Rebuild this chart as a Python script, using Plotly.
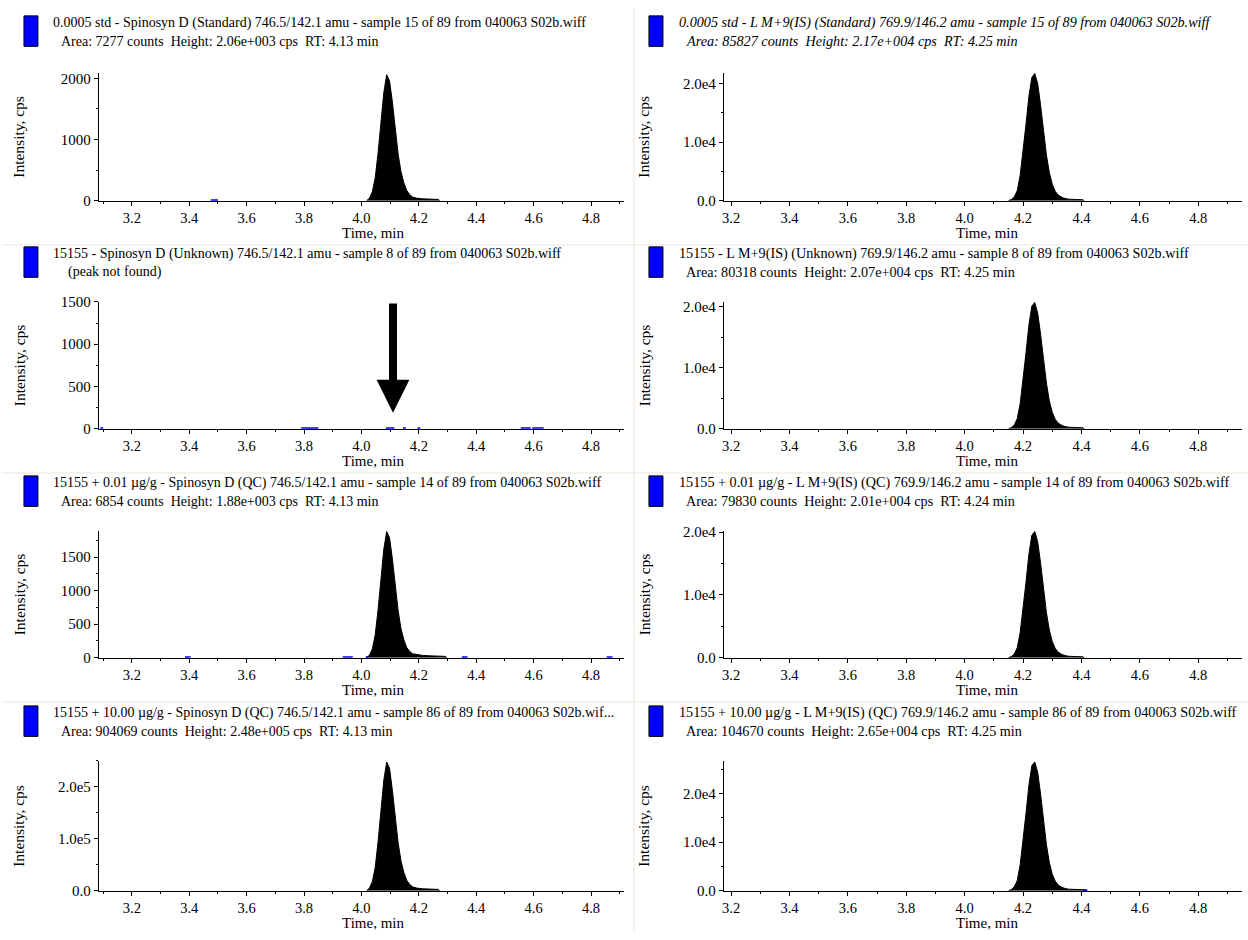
import plotly.graph_objects as go

W, H = 1248, 940

# ---------------- data ----------------
# Spinosyn D peaks (left column)
t_left = [4.018, 4.028, 4.038, 4.048, 4.058, 4.068, 4.078, 4.088, 4.098, 4.108, 4.118, 4.128,
          4.138, 4.148, 4.158, 4.168, 4.178, 4.193, 4.213, 4.233, 4.253, 4.268, 4.273]
i_std = [0, 40, 145, 370, 780, 1280, 1770, 2060, 1960, 1610, 1150, 760,
         470, 290, 165, 100, 60, 40, 30, 27, 25, 20, 0]
i_unknown = []  # peak not found
t_qc1 = [4.018, 4.028, 4.038, 4.048, 4.058, 4.068, 4.078, 4.088, 4.098, 4.108, 4.118, 4.128,
         4.138, 4.148, 4.158, 4.168, 4.178, 4.193, 4.213, 4.233, 4.253, 4.273, 4.293, 4.298]
i_qc1 = [0, 38, 130, 340, 715, 1165, 1620, 1880, 1790, 1470, 1050, 700,
         430, 265, 150, 95, 60, 45, 35, 30, 25, 22, 20, 0]
i_qc10 = [0, 5000, 17400, 44600, 94200, 154000, 213000, 248000, 236000, 193000, 139000, 92000,
          57000, 35000, 20000, 12400, 7500, 5000, 3700, 3200, 3000, 2500, 0]

# L M+9 (IS) peaks (right column)
t_right = [4.150, 4.160, 4.170, 4.180, 4.190, 4.200, 4.210, 4.220, 4.230, 4.240, 4.250, 4.260,
           4.270, 4.280, 4.290, 4.300, 4.310, 4.320, 4.330, 4.340, 4.355, 4.375, 4.395, 4.405, 4.41]
i_is_std = [0, 200, 650, 1700, 4300, 8200, 13000, 17800, 21000, 21700, 20000, 16300,
            11900, 7800, 4800, 2800, 1600, 980, 650, 430, 260, 220, 170, 150, 0]
i_is_unk = [0, 200, 600, 1650, 4100, 7900, 12400, 17000, 20100, 20700, 19000, 15500,
            11400, 7500, 4550, 2700, 1550, 930, 620, 410, 250, 210, 165, 145, 0]
i_is_qc1 = [0, 200, 600, 1600, 4000, 7600, 12000, 16500, 19500, 20100, 18500, 15100,
            11000, 7200, 4400, 2600, 1500, 900, 600, 400, 240, 200, 160, 140, 0]
t_right4 = [4.150, 4.160, 4.170, 4.180, 4.190, 4.200, 4.210, 4.220, 4.230, 4.240, 4.250, 4.260,
            4.270, 4.280, 4.290, 4.300, 4.310, 4.320, 4.330, 4.340, 4.355, 4.375, 4.395, 4.415, 4.42]
i_is_qc10 = [0, 260, 800, 2100, 5300, 10000, 15900, 21700, 25700, 26500, 24400, 19900,
             14600, 9500, 5800, 3400, 2000, 1200, 800, 530, 320, 265, 210, 185, 0]

# small integrated noise segments (blue) on baselines
blue_std = [[3.475, 3.50]]
blue_unknown = [[3.09, 3.10], [3.79, 3.85], [4.085, 4.115], [4.145, 4.155], [4.195, 4.205],
                [4.555, 4.59], [4.595, 4.635]]
blue_qc1 = [[3.385, 3.405], [3.935, 3.97], [4.015, 4.025], [4.35, 4.37], [4.855, 4.875]]
blue_is_qc10 = [[4.405, 4.42]]

x_ticks = [3.2, 3.4, 3.6, 3.8, 4.0, 4.2, 4.4, 4.6, 4.8]
x_ticktext = ["3.2", "3.4", "3.6", "3.8", "4.0", "4.2", "4.4", "4.6", "4.8"]

titles = [
    ("0.0005 std - Spinosyn D (Standard) 746.5/142.1 amu - sample 15 of 89 from 040063 S02b.wiff",
     "Area: 7277 counts  Height: 2.06e+003 cps  RT: 4.13 min", False),
    ("0.0005 std - L M+9(IS) (Standard) 769.9/146.2 amu - sample 15 of 89 from 040063 S02b.wiff",
     "Area: 85827 counts  Height: 2.17e+004 cps  RT: 4.25 min", True),
    ("15155 - Spinosyn D (Unknown) 746.5/142.1 amu - sample 8 of 89 from 040063 S02b.wiff",
     "  (peak not found)", False),
    ("15155 - L M+9(IS) (Unknown) 769.9/146.2 amu - sample 8 of 89 from 040063 S02b.wiff",
     "Area: 80318 counts  Height: 2.07e+004 cps  RT: 4.25 min", False),
    ("15155 + 0.01 µg/g - Spinosyn D (QC) 746.5/142.1 amu - sample 14 of 89 from 040063 S02b.wiff",
     "Area: 6854 counts  Height: 1.88e+003 cps  RT: 4.13 min", False),
    ("15155 + 0.01 µg/g - L M+9(IS) (QC) 769.9/146.2 amu - sample 14 of 89 from 040063 S02b.wiff",
     "Area: 79830 counts  Height: 2.01e+004 cps  RT: 4.24 min", False),
    ("15155 + 10.00 µg/g - Spinosyn D (QC) 746.5/142.1 amu - sample 86 of 89 from 040063 S02b.wif...",
     "Area: 904069 counts  Height: 2.48e+005 cps  RT: 4.13 min", False),
    ("15155 + 10.00 µg/g - L M+9(IS) (QC) 769.9/146.2 amu - sample 86 of 89 from 040063 S02b.wiff",
     "Area: 104670 counts  Height: 2.65e+004 cps  RT: 4.25 min", False),
]

panels = [
    dict(t=t_left, i=i_std, blue=blue_std, ymax=2090, yt=[0, 1000, 2000], ytt=["0", "1000", "2000"], ym=500),
    dict(t=t_right, i=i_is_std, blue=[], ymax=21800, yt=[0, 10000, 20000], ytt=["0.0", "1.0e4", "2.0e4"], ym=5000),
    dict(t=[], i=i_unknown, blue=blue_unknown, ymax=1500, yt=[0, 500, 1000, 1500], ytt=["0", "500", "1000", "1500"], ym=250),
    dict(t=t_right, i=i_is_unk, blue=[], ymax=20800, yt=[0, 10000, 20000], ytt=["0.0", "1.0e4", "2.0e4"], ym=5000),
    dict(t=t_qc1, i=i_qc1, blue=blue_qc1, ymax=1890, yt=[0, 500, 1000, 1500], ytt=["0", "500", "1000", "1500"], ym=250),
    dict(t=t_right, i=i_is_qc1, blue=[], ymax=20200, yt=[0, 10000, 20000], ytt=["0.0", "1.0e4", "2.0e4"], ym=5000),
    dict(t=t_left, i=i_qc10, blue=[], ymax=250000, yt=[0, 100000, 200000], ytt=["0.0", "1.0e5", "2.0e5"], ym=50000),
    dict(t=t_right4, i=i_is_qc10, blue=blue_is_qc10, ymax=26700, yt=[0, 10000, 20000], ytt=["0.0", "1.0e4", "2.0e4"], ym=5000),
]

# ---------------- layout geometry (pixels) ----------------
col_x = [(97, 623), (723, 1242)]
col_range = [(3.085, 4.915), (3.175, 4.95)]
row_y = [(66, 196), (299, 428), (532, 661), (766, 898)]
row_top = [8, 243, 476, 710]
col_title_x = [(49, 57), (676, 683)]
col_title_size = [14, 14.2]
col_ytitle_x = [17, 643]
col_xtitle_x = [372, 987]
FONT = "Liberation Serif, Times New Roman, serif"


def px(x):
    return x / W


def py(y):
    return 1 - y / H


fig = go.Figure()
layout = dict(width=W, height=H, margin=dict(l=0, r=0, t=0, b=0),
              paper_bgcolor="white", plot_bgcolor="white", showlegend=False,
              font=dict(family=FONT, color="black", size=15))
annotations = []
shapes = []

for k, p in enumerate(panels):
    r, c = k // 2, k % 2
    n = k + 1
    xa = "x" if n == 1 else f"x{n}"
    ya = "y" if n == 1 else f"y{n}"
    x0, x1 = col_x[c]
    y0, y1 = row_y[r]
    layout["xaxis" if n == 1 else f"xaxis{n}"] = dict(
        domain=[px(x0), px(x1)], range=list(col_range[c]), anchor=ya,
        showline=True, linecolor="black", linewidth=1, mirror=False,
        ticks="outside", ticklen=4, tickcolor="black", tickwidth=1,
        tickvals=x_ticks, ticktext=x_ticktext, showgrid=False, zeroline=False,
        tickfont=dict(family=FONT, size=14.5, color="black"),
        minor=dict(ticks="outside", ticklen=2, tickcolor="black", dtick=0.1, tick0=3.1, showgrid=False),
        fixedrange=True)
    layout["yaxis" if n == 1 else f"yaxis{n}"] = dict(
        domain=[py(y1), py(y0)], range=[0, p["ymax"]], anchor=xa,
        showline=True, linecolor="black", linewidth=1,
        ticks="outside", ticklen=4, tickcolor="black", tickwidth=1,
        tickvals=p["yt"], ticktext=p["ytt"], showgrid=False, zeroline=False,
        tickfont=dict(family=FONT, size=15, color="black"),
        minor=dict(ticks="outside", ticklen=2, tickcolor="black", dtick=p["ym"], tick0=0, showgrid=False),
        fixedrange=True)

    if p["t"]:
        fig.add_trace(go.Scatter(x=p["t"], y=p["i"], xaxis=xa, yaxis=ya, mode="lines",
                                 line=dict(color="black", width=1), fill="tozeroy",
                                 fillcolor="black", hoverinfo="skip"))
    for seg in p["blue"]:
        fig.add_trace(go.Scatter(x=seg, y=[0, 0], xaxis=xa, yaxis=ya, mode="lines",
                                 line=dict(color="#0000ff", width=3), hoverinfo="skip",
                                 cliponaxis=False))

    # titles
    l1, l2, ital = titles[k]
    tx1, tx2 = col_title_x[c]
    top = row_top[r]
    for txt, xx, yy in ((l1, tx1, top + 7), (l2, tx2, top + 26)):
        annotations.append(dict(text=f"<i>{txt}</i>" if ital else txt, x=px(xx), y=py(yy),
                                xref="paper", yref="paper", xanchor="left", yanchor="middle",
                                showarrow=False,
                                font=dict(family=FONT, size=col_title_size[c], color="black")))
    # legend square
    sx = 22 if c == 0 else 648
    shapes.append(dict(type="rect", xref="paper", yref="paper", x0=px(sx), x1=px(sx + 14),
                       y0=py(top + 31), y1=py(top), fillcolor="#0000ff",
                       line=dict(color="black", width=1)))
    # axis titles
    annotations.append(dict(text="Intensity, cps", x=px(col_ytitle_x[c]), y=py((y0 + y1) / 2),
                            xref="paper", yref="paper", textangle=-90, showarrow=False,
                            xanchor="center", yanchor="middle",
                            font=dict(family=FONT, size=15.5, color="black")))
    annotations.append(dict(text="Time, min", x=px(col_xtitle_x[c]), y=py(y1 + 33),
                            xref="paper", yref="paper", showarrow=False,
                            xanchor="center", yanchor="middle",
                            font=dict(family=FONT, size=15, color="black")))

# arrow pointing at the expected (missing) peak
annotations.append(dict(x=4.11, y=190, ax=4.11, ay=1500, xref="x3", yref="y3",
                        axref="x3", ayref="y3", showarrow=True, arrowhead=2,
                        arrowwidth=8, arrowsize=0.82, arrowcolor="black", text=""))

# separators
sep_col = "#ebe8d8"
shapes.append(dict(type="line", xref="paper", yref="paper", x0=px(633), x1=px(633), y0=0, y1=1,
                   line=dict(color=sep_col, width=1), layer="below"))
for sy in (241, 473, 706):
    shapes.append(dict(type="line", xref="paper", yref="paper", x0=0, x1=1, y0=py(sy), y1=py(sy),
                       line=dict(color=sep_col, width=1), layer="below"))

layout["annotations"] = annotations
layout["shapes"] = shapes
fig.update_layout(**layout)
fig.write_html("out.html", config={"displayModeBar": False},
               post_script="document.body.style.margin='0px';document.body.style.overflow='hidden';")
